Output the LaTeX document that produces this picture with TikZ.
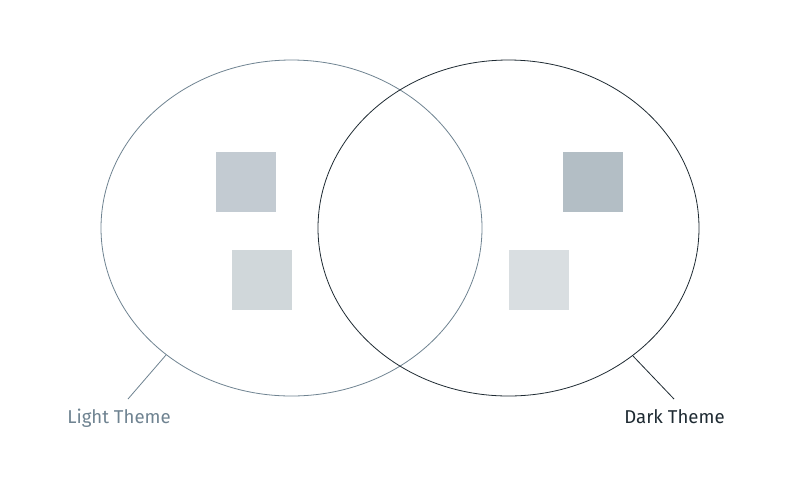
\documentclass[tikz,border=0pt]{standalone}
\usepackage{fontspec}
\setmainfont{Fira Sans}
\definecolor{lightline}{HTML}{6F8391}
\definecolor{darkline}{HTML}{1E2A32}
\definecolor{sqA}{HTML}{C3CBD2}
\definecolor{sqB}{HTML}{D0D7DA}
\definecolor{sqC}{HTML}{B3BEC5}
\definecolor{sqD}{HTML}{D9DEE1}
\tikzset{
  sq/.style={minimum width=60pt, minimum height=60pt, inner sep=0pt, draw=none, anchor=north west},
  lbl/.style={font=\fontsize{18.6}{22}\selectfont, inner sep=0pt, anchor=base}
}
\begin{document}
\begin{tikzpicture}[x=1pt,y=-1pt]
\useasboundingbox (0,0) rectangle (800,499);
\fill[white] (0,0) rectangle (800,499);
\node[sq, fill=sqA] (a) at (216,152) {};
\node[sq, fill=sqB] (b) at (232,250) {};
\node[sq, fill=sqC] (c) at (563,152) {};
\node[sq, fill=sqD] (d) at (509,250) {};
\draw[lightline, line width=0.8pt] (291.5,228) ellipse [x radius=190.5, y radius=168];
\draw[darkline, line width=0.8pt] (508.5,228) ellipse [x radius=190.5, y radius=168];
\coordinate (lp) at (166,355);
\coordinate (le) at (128,399);
\coordinate (rp) at (633,356);
\coordinate (re) at (674,399);
\draw[lightline, line width=0.8pt] (lp) -- (le);
\draw[darkline, line width=0.8pt] (rp) -- (re);
\node[lbl, text=lightline] (lt) at (119,423) {Light Theme};
\node[lbl, text=darkline] (dt) at (674.5,423) {Dark Theme};
\end{tikzpicture}
\end{document}
